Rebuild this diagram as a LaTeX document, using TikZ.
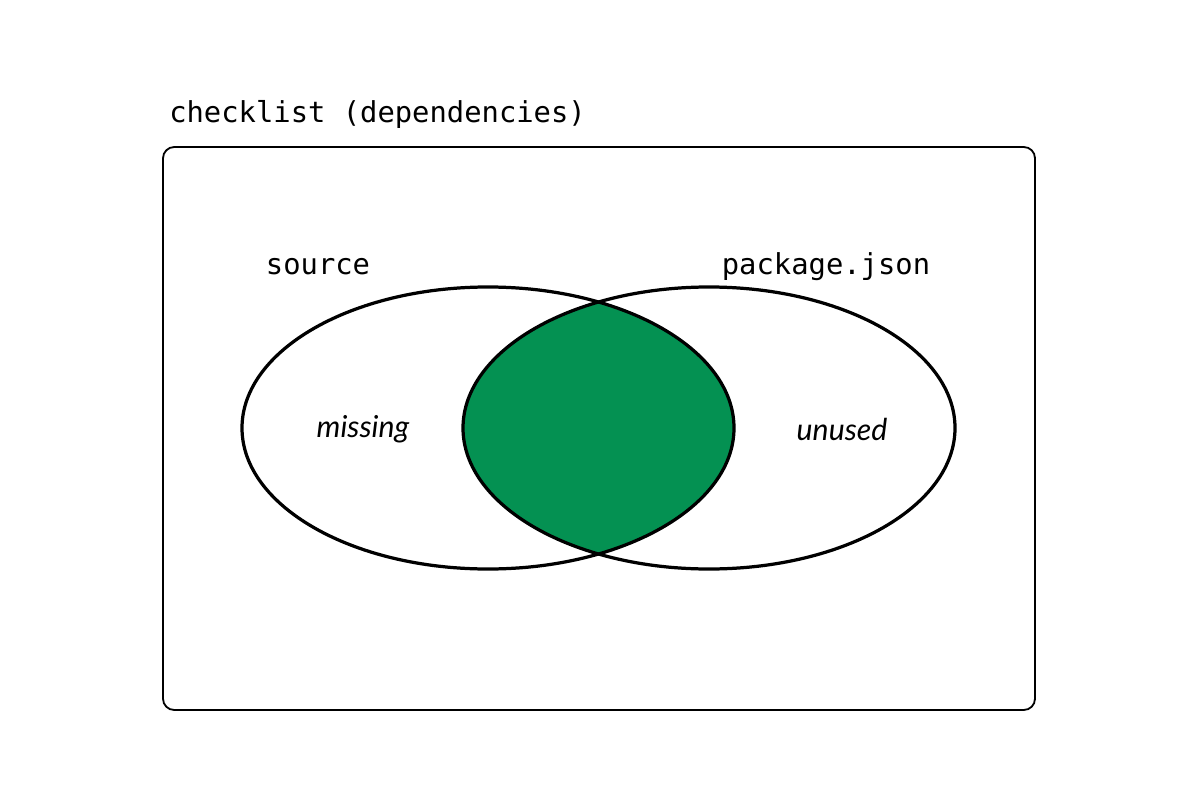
\documentclass[tikz,border=0pt]{standalone}
\usepackage{fontspec}
\setmainfont{Lato}
\setmonofont{DejaVu Sans Mono}
\definecolor{venn-green}{RGB}{4,145,82}
\tikzstyle{set-label}=[font=\ttfamily\fontsize{20.5}{24}\selectfont, inner sep=0pt]
\tikzstyle{part-label}=[font=\itshape\fontsize{21.5}{24}\selectfont, inner sep=0pt]
\tikzstyle{set-line}=[draw, line width=2.3pt]

\begin{document}
\begin{tikzpicture}[x=0.025cm, y=-0.025cm]
    \useasboundingbox (0,0) rectangle (1200,800);
    \draw[line width=1.3pt, rounded corners=8pt] (163,147) rectangle (1035,710);
    \node[set-label, anchor=west] (title) at (169,114) {checklist (dependencies)};
    \coordinate (src) at (488,428);
    \coordinate (pkg) at (709,428);
    % overlap of the two sets
    \begin{scope}
      \clip (src) ellipse [x radius=246, y radius=141];
      \fill[venn-green] (pkg) ellipse [x radius=246, y radius=141];
    \end{scope}
    \draw[set-line] (src) ellipse [x radius=246, y radius=141];
    \draw[set-line] (pkg) ellipse [x radius=246, y radius=141];
    \node[set-label]  (srclbl)  at (318,267) {source};
    \node[set-label]  (pkglbl)  at (826,267) {package.json};
    \node[part-label] (missing) at (363,429) {missing};
    \node[part-label] (unused)  at (842,429) {unused};
  \end{tikzpicture}
\end{document}
